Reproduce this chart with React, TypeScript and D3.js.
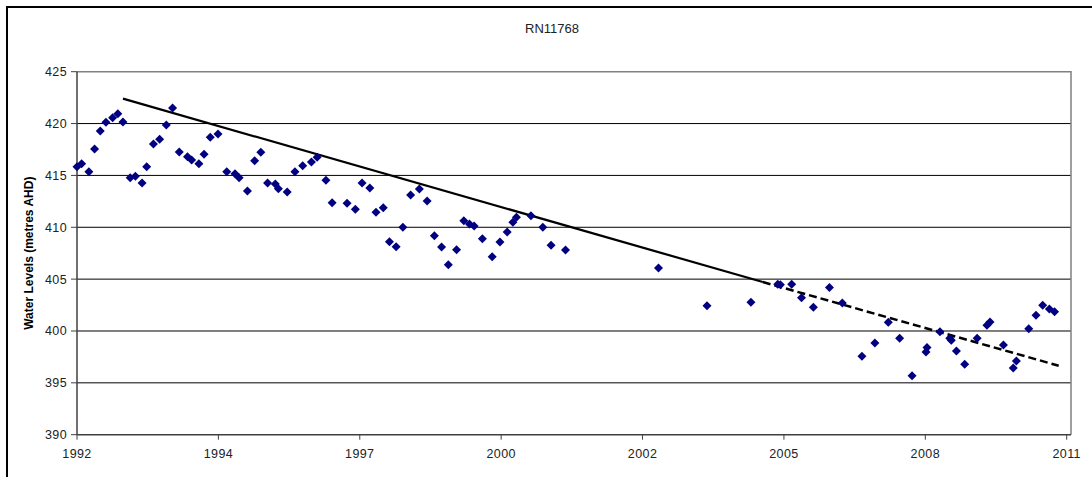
import React from 'react'
import * as d3 from 'd3'

// observation dates (decimal years) and water levels (m AHD)
const obsYears = [
  1992.0, 1992.09, 1992.23, 1992.34, 1992.45, 1992.56, 1992.69, 1992.79, 1992.89,
  1993.03, 1993.13, 1993.26, 1993.35, 1993.48, 1993.6, 1993.73, 1993.85, 1993.98,
  1994.14, 1994.22, 1994.36, 1994.46, 1994.58, 1994.73, 1994.9, 1995.06, 1995.14,
  1995.3, 1995.44, 1995.56, 1995.69, 1995.84, 1995.9, 1996.07, 1996.22, 1996.37,
  1996.54, 1996.65, 1996.82, 1996.94, 1997.23, 1997.39, 1997.52, 1997.67, 1997.79,
  1997.93, 1998.05, 1998.18, 1998.31, 1998.46, 1998.63, 1998.78, 1998.92, 1999.06,
  1999.19, 1999.35, 1999.49, 1999.6, 1999.69, 1999.85, 2000.04, 2000.19, 2000.33,
  2000.44, 2000.51, 2000.79, 2001.02, 2001.18, 2001.46, 2003.26, 2004.2, 2005.05,
  2005.57, 2005.62, 2005.84, 2006.03, 2006.26, 2006.57, 2006.82, 2007.2, 2007.45,
  2007.71, 2007.93, 2008.17, 2008.44, 2008.46, 2008.71, 2008.9, 2008.93, 2009.03,
  2009.19, 2009.43, 2009.62, 2009.68, 2009.94, 2010.13, 2010.19, 2010.43, 2010.57,
  2010.7, 2010.83, 2010.93,
]
const levels = [
  415.84, 416.13, 415.36, 417.55, 419.28, 420.12, 420.57, 420.95, 420.15,
  414.78, 414.92, 414.27, 415.84, 418.03, 418.48, 419.86, 421.5, 417.26,
  416.8, 416.49, 416.13, 417.04, 418.68, 418.99, 415.36, 415.17, 414.78,
  413.5, 416.42, 417.23, 414.27, 414.17, 413.72, 413.4, 415.36, 415.94,
  416.29, 416.75, 414.53, 412.37, 412.31, 411.73, 414.27, 413.79, 411.44,
  411.89, 408.61, 408.13, 410.01, 413.11, 413.69, 412.53, 409.19, 408.1,
  406.39, 407.84, 410.63, 410.32, 410.12, 408.9, 407.16, 408.58, 409.54,
  410.48, 410.96, 411.12, 410.0, 408.26, 407.81, 406.07, 402.44, 402.77,
  404.5, 404.46, 404.5, 403.21, 402.28, 404.19, 402.7, 397.57, 398.84,
  400.85, 399.3, 395.68, 397.98, 398.41, 399.93, 399.31, 399.1, 398.07,
  396.79, 399.31, 400.56, 400.87, 398.65, 396.43, 397.11, 400.22, 401.51,
  402.48, 402.12, 401.85,
]

// trend lines: [start, end]
const trendYears = [1992.89, 2005.28]
const trendLevels = [422.4, 404.72]
const dashYears = [2005.28, 2011.01]
const dashLevels = [404.72, 396.65]

const yTicks = [390, 395, 400, 405, 410, 415, 420, 425]
const xTickLabels = ['1992', '1994', '1997', '2000', '2002', '2005', '2008', '2011']

const title = 'RN11768'
const yLabel = 'Water Levels (metres AHD)'

const origin = Date.UTC(1992, 0, 1)
const toDate = (yr: number) => new Date(origin + (yr - 1992) * 365.25 * 864e5)

function App() {
  const width = 1092
  const height = 477
  const plot = { left: 77, top: 71.7, right: 1071, bottom: 434.7 }
  const font = 'Arial, "Liberation Sans", sans-serif'

  // Excel-style date axis: a tick every 1000 days
  const start = new Date(origin)
  const end = d3.utcDay.offset(start, 7000)
  const x = d3.scaleUtc().domain([start, end]).range([plot.left, 1066.7])
  const y = d3.scaleLinear().domain([390, 425]).range([plot.bottom, plot.top])
  const xTicks = xTickLabels.map((_, i) => d3.utcDay.offset(start, i * 1000))

  const points = obsYears.map((yr, i) => ({ d: toDate(yr), v: levels[i] }))
  const line = d3
    .line<[number, number]>()
    .x(d => x(toDate(d[0])))
    .y(d => y(d[1]))

  const diamond = 'M 0 -4.5 L 4.5 0 L 0 4.5 L -4.5 0 Z'

  return (
    <div style={{ position: 'absolute', left: 0, top: 0 }}>
      <svg width={width} height={height} style={{ display: 'block', fontFamily: font }}>
        <rect x={0} y={0} width={width} height={height} fill="#fff" />
        {/* chart area border, cut off at the right and bottom */}
        <rect x={7} y={7} width={width + 20} height={height + 20} fill="none" stroke="#000" strokeWidth={2} />

        <text x={552} y={32.5} textAnchor="middle" fontSize={13} fill="#222">{title}</text>

        {/* gridlines */}
        {yTicks.slice(1, -1).map(t => (
          <line key={t} x1={plot.left} x2={plot.right} y1={y(t)} y2={y(t)} stroke="#000" strokeWidth={1} />
        ))}
        {/* plot area border (top and right) */}
        <path
          d={`M ${plot.left} ${plot.top} H ${plot.right} V ${plot.bottom}`}
          fill="none"
          stroke="#808080"
          strokeWidth={1.5}
        />

        {/* axes */}
        <line x1={plot.left} x2={plot.left} y1={plot.top} y2={plot.bottom} stroke="#404040" strokeWidth={1.5} />
        <line x1={plot.left} x2={plot.right} y1={plot.bottom} y2={plot.bottom} stroke="#404040" strokeWidth={1.5} />
        {yTicks.map(t => (
          <g key={t} transform={`translate(0 ${y(t)})`}>
            <line x1={plot.left - 6} x2={plot.left} stroke="#404040" strokeWidth={1} />
            <text x={67} dy="0.35em" textAnchor="end" fontSize={12.5} letterSpacing={0.4} fill="#222">{t}</text>
          </g>
        ))}
        {xTicks.map((t, i) => (
          <g key={i} transform={`translate(${x(t)} 0)`}>
            <line y1={plot.bottom} y2={plot.bottom + 5} stroke="#404040" strokeWidth={1} />
            <text y={457.5} textAnchor="middle" fontSize={12.5} letterSpacing={0.4} fill="#222">{xTickLabels[i]}</text>
          </g>
        ))}

        <text
          transform={`translate(33 ${(plot.top + plot.bottom) / 2}) rotate(-90)`}
          textAnchor="middle"
          fontSize={12}
          fontWeight="bold"
          fill="#000"
        >
          {yLabel}
        </text>

        {/* trend lines */}
        <path
          d={line(trendYears.map((yr, i) => [yr, trendLevels[i]]) as [number, number][]) ?? ''}
          fill="none"
          stroke="#000"
          strokeWidth={2.2}
        />
        <path
          d={line(dashYears.map((yr, i) => [yr, dashLevels[i]]) as [number, number][]) ?? ''}
          fill="none"
          stroke="#000"
          strokeWidth={2.5}
          strokeDasharray="8 4"
        />

        {/* observations */}
        {points.map((p, i) => (
          <path key={i} d={diamond} transform={`translate(${x(p.d)} ${y(p.v)})`} fill="#000080" />
        ))}
      </svg>
    </div>
  )
}

export default App
